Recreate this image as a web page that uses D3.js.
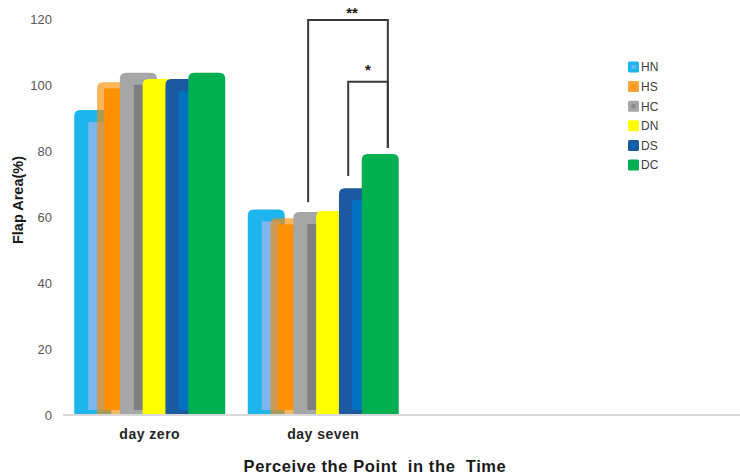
<!DOCTYPE html>
<html>
<head>
<meta charset="utf-8">
<script src="https://cdn.jsdelivr.net/npm/d3@7"></script>
<style>
  html, body { margin: 0; padding: 0; background: #fff; }
  svg { display: block; font-family: "Liberation Sans", Arial, sans-serif; }
</style>
</head>
<body>
<svg id="chart" width="740" height="475"></svg>
<script>
// ---- data ----
const categories = ["day zero", "day seven"];
const series = ["HN", "HS", "HC", "DN", "DS", "DC"];
const HN = [92.4, 62.3];
const HS = [100.8, 59.6];
const HC = [103.7, 61.5];
const DN = [101.8, 61.8];
const DS = [101.8, 68.7];
const DC = [103.7, 79.1];
const yTicks = [0, 20, 40, 60, 80, 100, 120];
const brackets = [
  { group: "day seven", from: "HC", to: "DC", top: 119.7, fromEnd: 64.5, toEnd: 80.9, label: "**" },
  { group: "day seven", from: "DS", to: "DC", top: 101.0, fromEnd: 72.4, toEnd: 80.9, label: "*" }
];

// ---- styles ----
const outerColor = { HN: "#1db5ec", HS: "rgba(248,141,0,0.64)", HC: "#a6a6a6", DN: "#ffff00", DS: "#1b5aa0", DC: "#00b050" };
const innerColor = { HN: "#7eb6ee", HS: "#ff9100", HC: "#7f7f7f", DN: "#ffff00", DS: "#0070c0", DC: "#00b050" };
const legendColor = { HN: "#1db5ec", HS: "#fba43a", HC: "#a6a6a6", DN: "#ffff00", DS: "#1b5aa0", DC: "#00b050" };
const borderL = { HN: 14, HS: 7, HC: 14, DN: 0, DS: 13, DC: 0 };
const borderT = { HN: 12, HS: 6, HC: 12, DN: 0, DS: 12, DC: 0 };
const bracketAnchor = { HC: 0.40, DS: 0.25, DC: 0.705 };
const labelGap = { "**": 2, "*": 7 };

const values = { HN, HS, HC, DN, DS, DC };

const svg = d3.select("#chart");

const y = d3.scaleLinear().domain([0, 120]).range([415, 19]);
const x0 = d3.scaleBand().domain(categories).range([63, 410]).paddingInner(0).paddingOuter(0);
const groupW = 151;
const barW = 37;
const x1 = d3.scaleBand().domain(series).range([0, groupW - barW]).paddingInner(0).paddingOuter(0);
x1.range([0, (groupW - barW) * 6 / 5]);
const groupLeft = c => x0(c) + (x0.bandwidth() - groupW) / 2;

function topRounded(x, yTop, w, yBot, r) {
  return `M${x},${yBot}V${yTop + r}Q${x},${yTop} ${x + r},${yTop}H${x + w - r}Q${x + w},${yTop} ${x + w},${yTop + r}V${yBot}Z`;
}

// ---- bars ----
const barsG = svg.append("g");
categories.forEach((c, ci) => {
  series.forEach(s => {
    const v = values[s][ci];
    const bx = groupLeft(c) + x1(s);
    const by = y(v);
    const base = y(0);
    barsG.append("path")
      .attr("d", topRounded(bx, by, barW, base, 6))
      .attr("fill", outerColor[s]);
    if (borderL[s] > 0) {
      barsG.append("rect")
        .attr("x", bx + borderL[s])
        .attr("y", by + borderT[s])
        .attr("width", barW - 2 * borderL[s] > 0 ? barW - borderL[s] - 4 : 8)
        .attr("height", Math.max(0, base - 5 - (by + borderT[s])))
        .attr("fill", innerColor[s]);
    }
  });
});

// ---- x axis line ----
svg.append("line")
  .attr("x1", 63).attr("x2", 740)
  .attr("y1", y(0)).attr("y2", y(0))
  .attr("stroke", "#d9d9d9").attr("stroke-width", 2);

// ---- y axis ----
const yAxis = d3.axisLeft(y).tickValues(yTicks).tickSize(0).tickPadding(11);
const yg = svg.append("g").attr("transform", "translate(63,0)").call(yAxis);
yg.select(".domain").remove();
yg.selectAll("text")
  .attr("font-size", 13)
  .attr("fill", "#595959")
  .attr("font-family", "Liberation Sans, Arial, sans-serif");

// ---- x axis labels ----
const xAxis = d3.axisBottom(x0).tickSize(0).tickPadding(14);
const xg = svg.append("g").attr("transform", `translate(0,${y(0)})`).call(xAxis);
xg.select(".domain").remove();
xg.selectAll("text")
  .attr("font-size", 14)
  .attr("font-weight", "bold")
  .attr("letter-spacing", "0.5px")
  .attr("fill", "#262626")
  .attr("font-family", "Liberation Sans, Arial, sans-serif");

// ---- axis titles ----
svg.append("text")
  .attr("x", 375).attr("y", 472)
  .attr("text-anchor", "middle")
  .attr("font-size", 16.5)
  .attr("font-weight", "bold")
  .attr("letter-spacing", "0.6px")
  .attr("fill", "#1a1a1a")
  .style("white-space", "pre")
  .text("Perceive the Point  in the  Time");

svg.append("text")
  .attr("transform", "translate(23,200) rotate(-90)")
  .attr("text-anchor", "middle")
  .attr("font-size", 14.5)
  .attr("font-weight", "bold")
  .attr("fill", "#1a1a1a")
  .text("Flap Area(%)");

// ---- legend ----
const lg = svg.append("g").attr("transform", "translate(628,67)");
series.forEach((s, i) => {
  const row = lg.append("g").attr("transform", `translate(0,${i * 19.6})`);
  row.append("rect").attr("x", 0).attr("y", -5.5).attr("width", 11).attr("height", 11)
    .attr("rx", 1.5).attr("fill", legendColor[s]);
  if (borderL[s] > 0) {
    row.append("rect").attr("x", 3.5).attr("y", -2).attr("width", 4).attr("height", 4)
      .attr("fill", innerColor[s]).attr("opacity", 0.8);
  }
  row.append("text").attr("x", 13).attr("y", 0).attr("dy", "0.36em")
    .attr("font-size", 12).attr("fill", "#404040").text(s);
});

// ---- significance brackets ----
const bg = svg.append("g");
brackets.forEach(b => {
  const gl = groupLeft(b.group);
  const xa = gl + x1(b.from) + barW * bracketAnchor[b.from];
  const xb = gl + x1(b.to) + barW * bracketAnchor[b.to];
  bg.append("path")
    .attr("d", `M${xa},${y(b.fromEnd)}V${y(b.top)}H${xb}V${y(b.toEnd)}`)
    .attr("fill", "none")
    .attr("stroke", "#3a3a3a")
    .attr("stroke-width", 2);
  bg.append("text")
    .attr("x", (xa + xb) / 2 + (b.label === "**" ? 4 : 0))
    .attr("y", y(b.top) - labelGap[b.label])
    .attr("text-anchor", "middle")
    .attr("font-size", 15)
    .attr("font-weight", "bold")
    .attr("fill", "#1a1a1a")
    .text(b.label);
});
</script>
</body>
</html>
